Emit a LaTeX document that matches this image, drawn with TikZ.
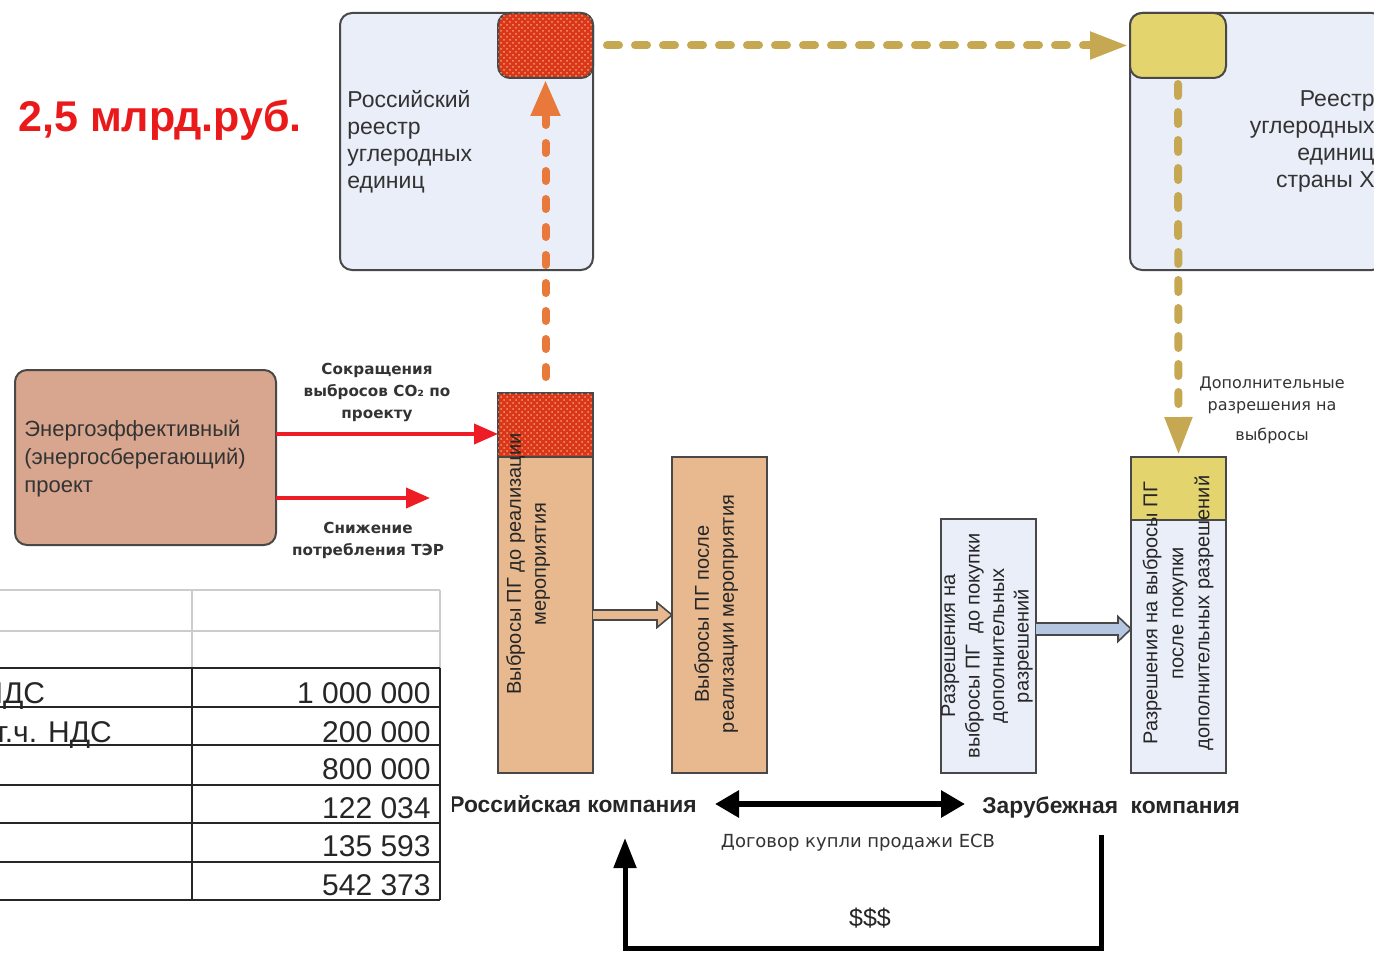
\documentclass[tikz,border=0pt]{standalone}
\usepackage{fontspec}
\setmainfont{Liberation Sans}
\newfontfamily\dvs{DejaVu Sans}
\usetikzlibrary{arrows.meta,patterns,calc}
\definecolor{regblue}{HTML}{E9EEF8}
\definecolor{edgegray}{HTML}{484848}
\definecolor{hatchred}{HTML}{D9361A}
\definecolor{hatchdot}{HTML}{F39A6A}
\definecolor{dashorange}{HTML}{E8793A}
\definecolor{goldc}{HTML}{C6A853}
\definecolor{yelfill}{HTML}{E3D46E}
\definecolor{projfill}{HTML}{D8A68E}
\definecolor{tanfill}{HTML}{E8B98F}
\definecolor{arrred}{HTML}{EE1C24}
\definecolor{bluearr}{HTML}{B5C7E0}
\definecolor{titlered}{HTML}{EA1A1A}
\definecolor{txtgray}{HTML}{333333}
\definecolor{tblgray}{HTML}{CCCCCC}
\tikzset{
  box/.style={draw=edgegray, line width=1pt, inner sep=0pt, outer sep=0pt},
  regbox/.style={box, fill=regblue, rounded corners=6pt},
  hatchbox/.style={box, fill=hatchred, postaction={pattern=crosshatch dots, pattern color=hatchdot}},
  yelbox/.style={box, fill=yelfill},
  tanbox/.style={box, fill=tanfill},
  bluebox/.style={box, fill=regblue},
  regtext/.style={inner sep=0pt, text=txtgray, font=\fontsize{11.5}{13.5}\selectfont},
  bartext/.style={inner sep=0pt, align=center, text=black!85, rotate=90, font=\fontsize{10}{12.5}\selectfont},
  boldlbl/.style={inner sep=0pt, align=center, text=txtgray, font=\dvs\bfseries\fontsize{7.6}{11}\selectfont},
  smalllbl/.style={inner sep=0pt, align=center, text=txtgray, font=\dvs\fontsize{8}{11}\selectfont},
  complbl/.style={inner sep=0pt, text=black!85, font=\bfseries\fontsize{11.4}{13}\selectfont},
  tbltext/.style={inner sep=0pt, text=black!85, font=\fontsize{15}{17}\selectfont},
  orangedash/.style={draw=dashorange, line width=4pt, line cap=round, dash pattern=on 5pt off 9pt, -{Triangle[length=18pt,width=14pt]}},
  golddash/.style={draw=goldc, line width=4pt, line cap=round, dash pattern=on 6pt off 8pt, -{Triangle[length=19pt,width=13pt]}},
  redarrow/.style={draw=arrred, line width=2pt, -{Triangle[length=12pt,width=10pt]}},
  blackdbl/.style={draw=black, line width=3pt, {Triangle[length=12pt,width=13pt]}-{Triangle[length=12pt,width=13pt]}},
  payarrow/.style={draw=black, line width=2.5pt, -{Triangle[length=15pt,width=11pt]}},
  hollow/.style={draw=edgegray, line width=0.8pt},
  tblblack/.style={draw=black!85, line width=1pt},
  tblgrayl/.style={draw=tblgray, line width=1pt}
}
\begin{document}
\begin{tikzpicture}[x=0.5pt,y=-0.5pt]
\useasboundingbox (0,0) rectangle (1374,952);
\clip (0,0) rectangle (1374,952);

% title
\node[anchor=west, inner sep=0pt, text=titlered, font=\bfseries\fontsize{21.5}{24}\selectfont] (ttl) at (18,120) {2,5 млрд.руб.};

% Russian registry
\node[regbox, minimum width=126.5pt, minimum height=128.5pt] (rreg) at (466.5,141.5) {};
\node[hatchbox, rounded corners=6pt, minimum width=47.5pt, minimum height=32.5pt] (rred) at (545.5,45.5) {};
\node[regtext, anchor=north west, align=left] (rregt) at (347,90) {Российский\\реестр\\углеродных\\единиц};

% Foreign registry
\node[regbox, minimum width=127pt, minimum height=128.5pt] (freg) at (1257,141.5) {};
\node[yelbox, rounded corners=6pt, minimum width=48pt, minimum height=32.5pt] (fyel) at (1178,45.5) {};
\node[regtext, anchor=north east, align=right] (fregt) at (1375,90) {Реестр\\углеродных\\единиц\\страны Х};

% project
\node[box, fill=projfill, rounded corners=6pt, minimum width=130.5pt, minimum height=87.5pt] (proj) at (145.5,457.5) {};
\node[regtext, anchor=north west, align=left, font=\fontsize{11}{14}\selectfont] (projt) at (24,420) {Энергоэффективный\\(энергосберегающий)\\проект};

% bars
\node[hatchbox, minimum width=47.5pt, minimum height=32pt] (b1top) at (545.5,425) {};
\node[tanbox, minimum width=47.5pt, minimum height=158pt] (b1) at (545.5,615) {};
\node[tanbox, minimum width=47.5pt, minimum height=158pt] (b2) at (719.5,615) {};
\node[bluebox, minimum width=47.5pt, minimum height=127pt] (b3) at (988.5,646) {};
\node[yelbox, minimum width=47.5pt, minimum height=31.5pt] (b4top) at (1178.5,488.5) {};
\node[bluebox, minimum width=47.5pt, minimum height=126.5pt] (b4) at (1178.5,646.5) {};

\node[bartext] (b1t) at (528,564) {Выбросы ПГ до реализации\\мероприятия};
\node[bartext] (b2t) at (716,614) {Выбросы ПГ после\\реализации мероприятия};
\node[bartext, font=\fontsize{10}{12.25}\selectfont] (b3t) at (987,646) {Разрешения на\\выбросы ПГ\ \ до покупки\\дополнительных\\разрешений};
\node[bartext, font=\fontsize{10}{13}\selectfont] (b4t) at (1178,613) {Разрешения на выбросы ПГ\\после покупки\\дополнительных разрешений};

% labels
\node[boldlbl] (lblco) at (377,392) {Сокращения\\выбросов CO₂ по\\проекту};
\node[boldlbl] (lblter) at (368,540) {Снижение\\потребления ТЭР};
\node[smalllbl] (lbladd) at (1272,410) {Дополнительные\\разрешения на\\[4pt]выбросы};

% dashed flows
\draw[orangedash, shorten <=8pt, shorten >=1pt] (b1top.north) -- (rred.south);
\draw[golddash, shorten <=7pt, shorten >=1pt] (rred.east) -- (fyel.west);
\draw[golddash, shorten <=3pt, shorten >=1pt] (fyel.south) -- (b4top.north);

% red arrows
\coordinate (ry1) at (0,434);
\coordinate (ry2) at (0,498);
\coordinate (terend) at (430,498);
\draw[redarrow] (proj.east |- ry1) -- (b1top.west |- ry1);
\draw[redarrow] (proj.east |- ry2) -- (terend);

% hollow arrows
\filldraw[hollow, fill=tanfill] ($(b1.east)+(0,-5)$) -- ($(b2.west)+(-15,-5)$) -- ($(b2.west)+(-15,-12.5)$) -- (b2.west) -- ($(b2.west)+(-15,12.5)$) -- ($(b2.west)+(-15,5)$) -- ($(b1.east)+(0,5)$);
\coordinate (by) at (0,629);
\coordinate (ba1) at (b3.east |- by);
\coordinate (ba2) at (b4.west |- by);
\filldraw[hollow, fill=bluearr] ($(ba1)+(0,-6)$) -- ($(ba2)+(-13,-6)$) -- ($(ba2)+(-13,-12.5)$) -- (ba2) -- ($(ba2)+(-13,12.5)$) -- ($(ba2)+(-13,6)$) -- ($(ba1)+(0,6)$);

% companies
\begin{scope}
\clip (452,770) rectangle (712,840);
\node[complbl, anchor=east] (rc) at (697,804) {Российская компания};
\end{scope}
\node[complbl, anchor=west] (fc) at (982,807) {Зарубежная\ \ компания};
\draw[blackdbl, shorten <=9pt, shorten >=8.5pt] (rc.east) -- (rc.east -| fc.west);
\node[smalllbl, font=\dvs\fontsize{9}{11}\selectfont] (contract) at (858,843) {Договор купли продажи ЕСВ};

% payment loop
\coordinate (payS) at (1101,835);
\coordinate (payE) at (625,838);
\draw[payarrow] (payS) -- ++(0,113) -| (payE);
\node[inner sep=0pt, text=black!85, font=\fontsize{12.5}{14}\selectfont] (usd) at (870,918) {\$\$\$};

% table
\draw[tblgrayl] (-5,590) -- (440,590);
\draw[tblgrayl] (-5,631) -- (440,631);
\draw[tblgrayl] (192,590) -- (192,668);
\draw[tblgrayl] (440,590) -- (440,668);
\foreach \yy in {668,707,745,785,823,862,900} {\draw[tblblack] (-5,\yy) -- (440,\yy);}
\draw[tblblack] (192,668) -- (192,900);
\draw[tblblack] (440,668) -- (440,900);
\node[tbltext, anchor=base west] (t1l) at (-19,703) {НДС};
\node[tbltext, anchor=base west] (t2l) at (-6,742) {т.ч. НДС};
\node[tbltext, anchor=base east] (t1) at (431,703) {1 000 000};
\node[tbltext, anchor=base east] (t2) at (431,742) {200 000};
\node[tbltext, anchor=base east] (t3) at (431,779) {800 000};
\node[tbltext, anchor=base east] (t4) at (431,818) {122 034};
\node[tbltext, anchor=base east] (t5) at (431,856) {135 593};
\node[tbltext, anchor=base east] (t6) at (431,895) {542 373};
\end{tikzpicture}
\end{document}
